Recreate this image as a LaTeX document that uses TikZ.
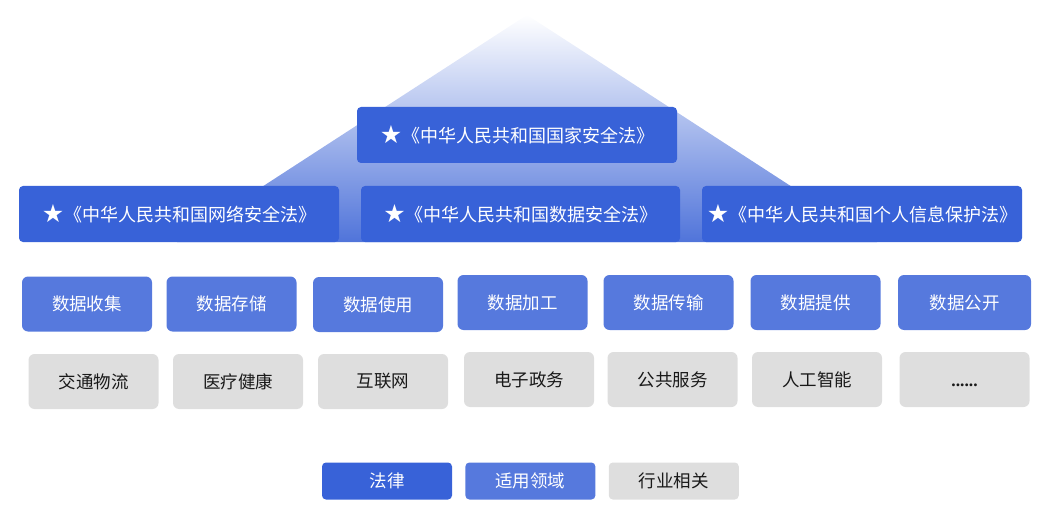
\documentclass[tikz,border=0pt]{standalone}
\usepackage{fontspec}
\setmainfont{Noto Sans CJK SC}
\newfontfamily\symfont{DejaVu Sans}
\newfontfamily\dotfont{Liberation Serif}
\usetikzlibrary{positioning}
\definecolor{lawblue}{HTML}{3862D8}
\definecolor{useblue}{HTML}{5679DD}
\definecolor{fieldgray}{HTML}{DEDEDE}
\definecolor{tribottom}{HTML}{5074DA}
\newcommand{\etcdots}{\vphantom{公}{\dotfont\bfseries ......}}
\newcommand{\lawstar}{\raisebox{-1pt}{\symfont\fontsize{25}{20}\selectfont ★}}
\tikzset{
	lawbox/.style={fill=lawblue, text=white, rounded corners=4pt, minimum width=320pt, minimum height=56pt, inner sep=0pt, font=\fontsize{18}{20}\selectfont},
	usebox/.style={fill=useblue, text=white, rounded corners=6pt, minimum width=130pt, minimum height=53pt, inner sep=0pt, font=\fontsize{17.5}{20}\selectfont},
	fieldbox/.style={fill=fieldgray, text=black!90, rounded corners=6pt, minimum width=130pt, minimum height=55pt, inner sep=0pt, font=\fontsize{17.5}{20}\selectfont},
	keybox/.style={rounded corners=4pt, minimum width=130pt, minimum height=37pt, inner sep=0pt, font=\fontsize{17.5}{20}\selectfont}
}

\begin{document}
\begin{tikzpicture}[x=1pt, y=-1pt]
\useasboundingbox (0,0) rectangle (1053,524);

% pyramid behind the laws
\coordinate (apex) at (527,15);
\shade[top color=white, bottom color=tribottom] (apex) -- (877,242) -- (177,242) -- cycle;

% laws
\node[lawbox] (security) at (517,135) {\lawstar《中华人民共和国国家安全法》};
\node[lawbox] (network) at (179,214) {\lawstar《中华人民共和国网络安全法》};
\node[lawbox, minimum width=319pt] (data) at (520.5,214) {\lawstar《中华人民共和国数据安全法》};
\node[lawbox] (privacy) at (862,214) {\lawstar《中华人民共和国个人信息保护法》};

% data handling steps
\foreach \x/\y/\name/\txt in {87/304/collect/数据收集, 231.5/304/store/数据存储, 378/304.5/apply/数据使用,
	522.5/302.5/process/数据加工, 668.5/302.5/transfer/数据传输, 815.5/302.5/provide/数据提供} {
	\node[usebox, minimum height=55pt] (\name) at (\x,\y) {\txt};
}
\node[usebox, minimum width=133pt, minimum height=55pt] (publish) at (964.5,302.5) {数据公开};

% sectors
\foreach \x/\y/\name/\txt in {93.5/381.5/traffic/交通物流, 238/381.5/health/医疗健康, 383/381.5/internet/互联网,
	529/379.5/egov/电子政务, 672.5/379.5/service/公共服务, 817/379.5/ai/人工智能, 964.5/379.5/more/\etcdots} {
	\node[fieldbox] (\name) at (\x,\y) {\txt};
}

% legend
\node[keybox, fill=lawblue, text=white] (keylaw) at (387,481) {法律};
\node[keybox, fill=useblue, text=white, right=13pt of keylaw] (keyuse) {适用领域};
\node[keybox, fill=fieldgray, text=black!90, right=13pt of keyuse] (keyfield) {行业相关};

\end{tikzpicture}
\end{document}
